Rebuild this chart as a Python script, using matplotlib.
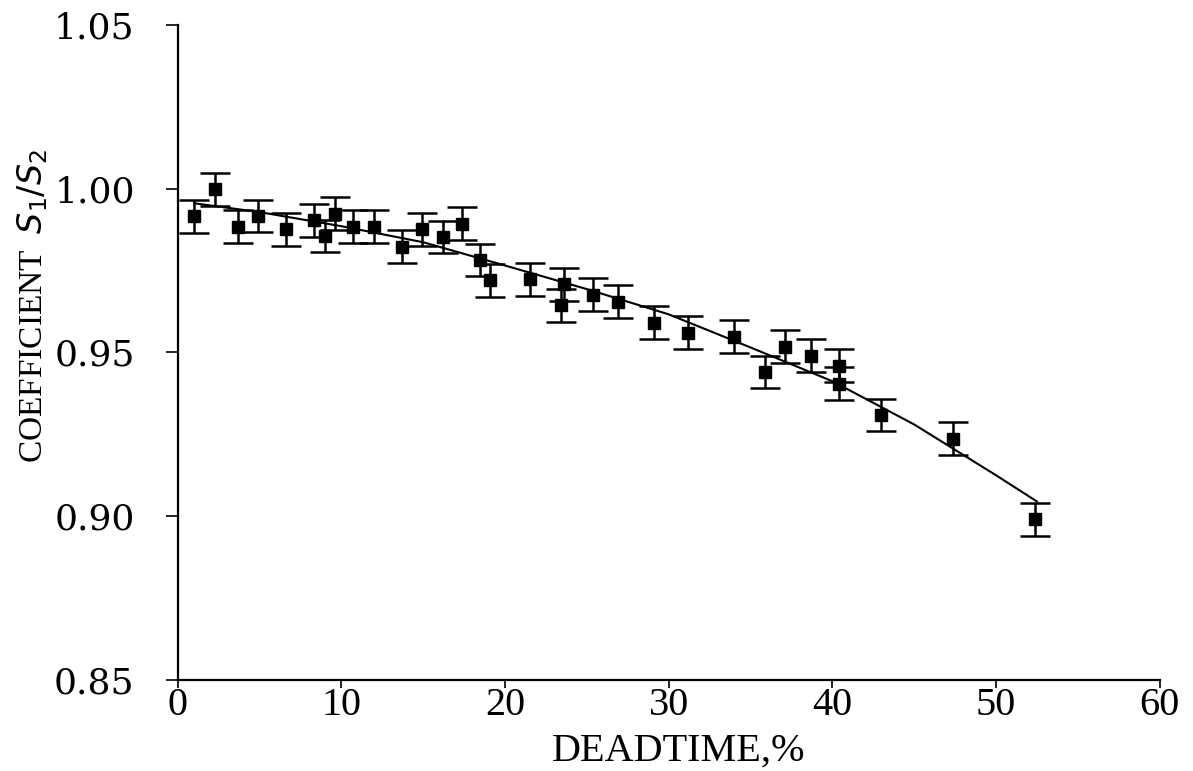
import numpy as np
import matplotlib
matplotlib.use("Agg")
import matplotlib.pyplot as plt

# measured points (deadtime %, coefficient S1/S2)
deadtime = [1.0, 2.3, 3.7, 4.9, 6.6, 8.3, 9.0, 9.6, 10.7, 12.0, 13.7, 14.9, 16.2, 17.4,
            18.5, 19.1, 21.5, 23.6, 23.4, 25.4, 26.9, 29.1, 31.2, 34.0, 35.9, 37.1,
            38.7, 40.4, 40.4, 43.0, 47.4, 52.4]
coeff = [0.9915, 0.9997, 0.9884, 0.9916, 0.9875, 0.9903, 0.9855, 0.9923, 0.9884, 0.9884,
         0.9823, 0.9875, 0.9852, 0.9893, 0.9782, 0.9720, 0.9723, 0.9708, 0.9643, 0.9676,
         0.9655, 0.9590, 0.9560, 0.9548, 0.9440, 0.9517, 0.9490, 0.9459, 0.9404, 0.9309,
         0.9236, 0.8991]
err = 0.005

# fitted curve
fit_x = [1, 5, 10, 15, 20, 25, 30, 35, 40, 45, 50, 52.5]
fit_y = [0.9955, 0.9928, 0.9885, 0.9836, 0.9765, 0.9693, 0.9616, 0.9515, 0.9412, 0.9280, 0.9125, 0.9045]

xticks = [0, 10, 20, 30, 40, 50, 60]
yticks = [0.85, 0.90, 0.95, 1.00, 1.05]

fig = plt.figure(figsize=(11.93, 7.71), dpi=100)
ax = fig.add_axes([0.149, 0.118, 0.823, 0.85])

ax.plot(fit_x, fit_y, color='black', lw=1.5)
ax.errorbar(deadtime, coeff, yerr=err, fmt='s', color='black', ms=8.5,
            elinewidth=1.8, capsize=11, capthick=1.8)

ax.set_xlim(0, 60)
ax.set_ylim(0.85, 1.05)
ax.set_xticks(xticks)
ax.set_yticks(yticks)
ax.set_xticklabels([str(t) for t in xticks], fontfamily='Liberation Serif', fontsize=29)
ax.set_yticklabels([f"{t:.2f}" for t in yticks], fontfamily='DejaVu Serif', fontsize=26)
ax.tick_params(axis='x', direction='out', length=6, width=1.2, pad=-1)
ax.tick_params(axis='y', direction='out', length=9, width=1.2, pad=22)

for s in ['top', 'right']:
    ax.spines[s].set_visible(False)
for s in ['left', 'bottom']:
    ax.spines[s].set_linewidth(1.6)

ax.set_xlabel("DEADTIME,%", fontfamily='Liberation Serif', fontsize=29, labelpad=0)
ax.set_ylabel("COEFFICIENT  $\\mathit{S_1/S_2}$", fontfamily='Liberation Serif', fontsize=24)
ax.yaxis.set_label_coords(-0.13, 0.571)
ax.xaxis.set_label_coords(0.51, -0.08)

fig.savefig("out.png", dpi=100)
